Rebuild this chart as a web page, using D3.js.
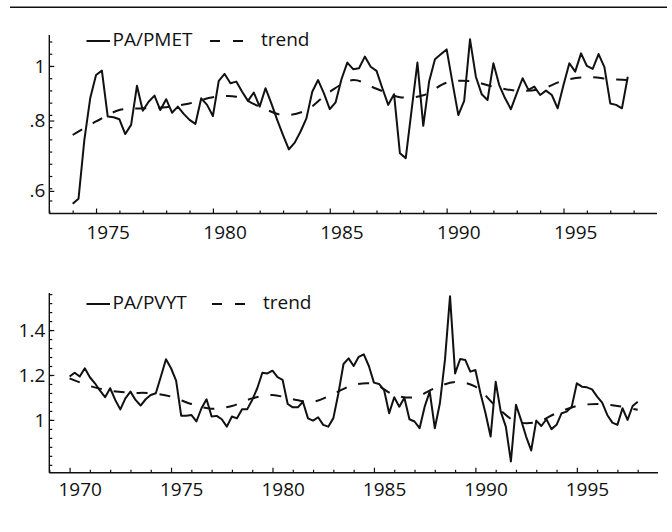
<!DOCTYPE html>
<html>
<head>
<meta charset="utf-8">
<script src="https://cdn.jsdelivr.net/npm/d3@7"></script>
<style>
  html, body { margin: 0; padding: 0; background: #fff; }
  svg { display: block; font-family: "Open Sans", "Noto Sans", sans-serif; }
</style>
</head>
<body>
<svg id="chart" width="672" height="532"></svg>
<script>
// Quarterly relative price PA/PMET, 1974Q1 - 1997Q4
const pmetStart = 1974;
const paPmet = [
  0.569, 0.581, 0.739, 0.876,
  0.964, 0.981, 0.813, 0.811,
  0.804, 0.757, 0.786, 0.922,
  0.833, 0.864, 0.886, 0.835,
  0.873, 0.826, 0.847, 0.822,
  0.802, 0.789, 0.876, 0.853,
  0.815, 0.941, 0.968, 0.932,
  0.938, 0.900, 0.867, 0.897,
  0.847, 0.913, 0.858, 0.802,
  0.754, 0.711, 0.731, 0.765,
  0.807, 0.900, 0.944, 0.894,
  0.838, 0.862, 0.947, 1.014,
  0.987, 0.991, 1.039, 0.997,
  0.980, 0.913, 0.853, 0.891,
  0.700, 0.686, 0.835, 1.014,
  0.783, 0.938, 1.028, 1.049,
  1.070, 0.934, 0.818, 0.867,
  1.115, 0.957, 0.891, 0.870,
  1.011, 0.925, 0.876, 0.838,
  0.894, 0.951, 0.907, 0.919,
  0.888, 0.904, 0.888, 0.841,
  0.925, 1.011, 0.977, 1.053,
  1.000, 0.988, 1.050, 0.995,
  0.858, 0.853, 0.841, 0.957
];
const pmetTrendYears = [1974, 1975, 1976, 1977, 1978, 1979, 1980, 1981, 1982, 1983, 1984, 1985,
  1986, 1987, 1988, 1989, 1990, 1991, 1992, 1993, 1994, 1995, 1996, 1997, 1997.75];
const pmetTrend = [0.754, 0.797, 0.835, 0.841, 0.845, 0.858, 0.880, 0.882, 0.847, 0.818, 0.835, 0.900,
  0.944, 0.911, 0.880, 0.887, 0.934, 0.940, 0.919, 0.904, 0.909, 0.942, 0.955, 0.948, 0.944];

// Quarterly relative price PA/PVYT, 1970Q1 - 1998Q1
const pvytStart = 1970;
const paPvyt = [
  1.193, 1.210, 1.193, 1.230,
  1.190, 1.163, 1.130, 1.101,
  1.141, 1.089, 1.047, 1.096,
  1.126, 1.089, 1.064, 1.092,
  1.111, 1.119, 1.193, 1.270,
  1.230, 1.175, 1.019, 1.019,
  1.022, 0.993, 1.052, 1.092,
  1.015, 1.018, 1.003, 0.970,
  1.015, 1.007, 1.047, 1.047,
  1.089, 1.141, 1.210, 1.207,
  1.219, 1.190, 1.178, 1.071,
  1.056, 1.056, 1.081, 1.007,
  0.997, 1.012, 0.978, 0.970,
  1.008, 1.119, 1.249, 1.274,
  1.240, 1.281, 1.292, 1.240,
  1.166, 1.160, 1.133, 1.030,
  1.101, 1.059, 1.099, 1.003,
  0.993, 0.963, 1.059, 1.126,
  0.963, 1.074, 1.267, 1.551,
  1.207, 1.271, 1.267, 1.215,
  1.222, 1.119, 1.030, 0.926,
  1.170, 1.037, 0.970, 0.815,
  1.067, 1.000, 0.926, 0.864,
  0.997, 0.973, 1.003, 0.959,
  0.978, 1.030, 1.037, 1.059,
  1.163, 1.148, 1.145, 1.136,
  1.104, 1.077, 1.022, 0.988,
  0.978, 1.052, 1.000, 1.062,
  1.081
];
const pvytTrendYears = [1970, 1971, 1972, 1973, 1974, 1975, 1976, 1977, 1978, 1979, 1980, 1981, 1982, 1983,
  1984, 1985, 1986, 1987, 1988, 1989, 1990, 1991, 1992, 1993, 1994, 1995, 1996, 1997, 1998];
const pvytTrend = [1.185, 1.151, 1.130, 1.121, 1.119, 1.104, 1.071, 1.050, 1.062, 1.096, 1.111, 1.092, 1.081, 1.116,
  1.156, 1.160, 1.111, 1.101, 1.141, 1.169, 1.148, 1.062, 0.993, 0.990, 1.030, 1.062, 1.071, 1.062, 1.045];

// Axis labels
const topValueLabels = [0.6, 0.8, 1];
const bottomValueLabels = [1, 1.2, 1.4];
const topYearLabels = [1975, 1980, 1985, 1990, 1995];
const bottomYearLabels = [1970, 1975, 1980, 1985, 1990, 1995];
const seriesNames = ["PA/PMET", "PA/PVYT"];
const trendName = "trend";

const svg = d3.select("#chart");
const ink = "#111";
const dash = "11,12";

// Rule across the top of the figure
svg.append("line")
  .attr("x1", 10).attr("x2", 667).attr("y1", 7.3).attr("y2", 7.3)
  .attr("stroke", ink).attr("stroke-width", 1.5);

const fmtValue = d => d === 1 ? "1" : (d < 1 ? String(d).replace(/^0/, "") : String(d));

function toRows(start, values) {
  return values.map((v, i) => ({ t: start + i * 0.25, v }));
}

function panel(cfg) {
  const g = svg.append("g");
  const x = d3.scaleLinear().domain(cfg.xDomain).range([49.3, cfg.xRight]);
  const y = cfg.y;
  const [yBottom, yTop] = y.range();

  // Year ticks: minor every year, longer every five years
  const allYears = d3.range(Math.ceil(cfg.xDomain[0]), cfg.xDomain[1]);
  g.append("g")
    .attr("transform", `translate(0,${yBottom})`)
    .call(d3.axisBottom(x).tickValues(allYears.filter(d => d % 5 !== 0))
      .tickSize(-3).tickSizeOuter(0).tickFormat(""))
    .call(a => a.select(".domain").remove());
  g.append("g")
    .attr("transform", `translate(0,${yBottom})`)
    .call(d3.axisBottom(x).tickValues(allYears.filter(d => d % 5 === 0))
      .tickSize(-5).tickSizeOuter(0).tickFormat(""))
    .call(a => a.select(".domain").remove());

  // Year labels sit in the middle of their year
  g.append("g")
    .attr("transform", `translate(0,${yBottom})`)
    .call(d3.axisBottom(x).tickValues(cfg.yearLabels.map(d => d + 0.5))
      .tickSize(0).tickPadding(cfg.xPad).tickFormat(d => Math.floor(d)))
    .call(a => a.select(".domain").remove())
    .call(a => a.selectAll("text").attr("font-size", 19).attr("fill", ink)
      .attr("font-family", "'Open Sans', 'Noto Sans', sans-serif"));

  // Value axis: minor ticks, then labelled ticks
  g.append("g")
    .attr("transform", `translate(49.3,0)`)
    .call(d3.axisLeft(y).tickValues(cfg.minorTicks).tickSize(-3).tickSizeOuter(0).tickFormat(""))
    .call(a => a.select(".domain").remove());
  g.append("g")
    .attr("transform", `translate(49.3,0)`)
    .call(d3.axisLeft(y).tickValues(cfg.valueLabels).tickSize(-5).tickSizeOuter(0)
      .tickPadding(4).tickFormat(fmtValue))
    .call(a => a.select(".domain").remove())
    .call(a => a.selectAll("text").attr("font-size", 19).attr("fill", ink)
      .attr("font-family", "'Open Sans', 'Noto Sans', sans-serif"));

  g.selectAll(".tick line").attr("stroke", ink).attr("stroke-width", 1.2);

  // Axis lines
  g.append("line").attr("x1", 49.3).attr("x2", 49.3).attr("y1", yTop).attr("y2", yBottom)
    .attr("stroke", ink).attr("stroke-width", 1.4);
  g.append("line").attr("x1", 49.3).attr("x2", cfg.xRight).attr("y1", yBottom).attr("y2", yBottom)
    .attr("stroke", ink).attr("stroke-width", 1.4);

  // Trend (smooth, dashed)
  const trendRows = cfg.trendYears.map((t, i) => ({ t, v: cfg.trend[i] }));
  g.append("path").datum(trendRows)
    .attr("fill", "none").attr("stroke", ink).attr("stroke-width", 2)
    .attr("stroke-dasharray", dash)
    .attr("d", d3.line().x(d => x(d.t)).y(d => y(d.v)).curve(d3.curveCatmullRom.alpha(0.5)));

  // Quarterly series (solid)
  g.append("path").datum(toRows(cfg.start, cfg.values))
    .attr("fill", "none").attr("stroke", ink).attr("stroke-width", 2)
    .attr("stroke-linejoin", "round")
    .attr("d", d3.line().x(d => x(d.t)).y(d => y(d.v)));

  // Legend
  const ly = cfg.legendY;
  const lg = g.append("g");
  lg.append("line").attr("x1", 86.5).attr("x2", 110).attr("y1", ly).attr("y2", ly)
    .attr("stroke", ink).attr("stroke-width", 2);
  lg.append("text").attr("x", 112.5).attr("y", ly + 4.5)
    .attr("font-size", 19).attr("fill", ink).text(cfg.name);
  lg.append("line").attr("x1", cfg.dashX).attr("x2", cfg.dashX + 33).attr("y1", ly).attr("y2", ly)
    .attr("stroke", ink).attr("stroke-width", 2).attr("stroke-dasharray", "10,13");
  lg.append("text").attr("x", cfg.dashX + 51).attr("y", ly + 4.5)
    .attr("font-size", 19).attr("fill", ink).text(trendName);
}

panel({
  xDomain: [1973, 1999], xRight: 657,
  y: d3.scaleLog().domain([0.547, 1.135]).range([213.5, 35]),
  minorTicks: d3.range(-11, 3).map(k => Math.exp(k * 0.05)),
  valueLabels: topValueLabels,
  yearLabels: topYearLabels, xPad: 12,
  start: pmetStart, values: paPmet,
  trendYears: pmetTrendYears, trend: pmetTrend,
  name: seriesNames[0], legendY: 41, dashX: 210
});

panel({
  xDomain: [1969, 1999], xRight: 658,
  y: d3.scaleLinear().domain([0.765, 1.565]).range([472.7, 293]),
  minorTicks: d3.range(-5, 15).map(k => 1 + k * 0.04),
  valueLabels: bottomValueLabels,
  yearLabels: bottomYearLabels, xPad: 9.5,
  start: pvytStart, values: paPvyt,
  trendYears: pvytTrendYears, trend: pvytTrend,
  name: seriesNames[1], legendY: 304, dashX: 212
});
</script>
</body>
</html>
